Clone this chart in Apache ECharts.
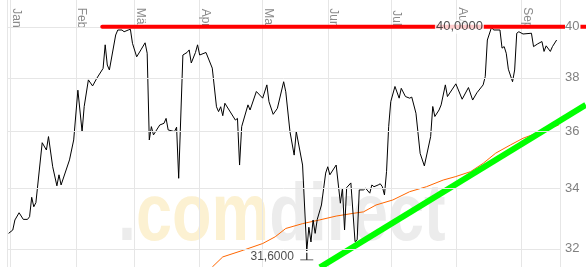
<!DOCTYPE html>
<html><head><meta charset="utf-8">
<script src="https://cdn.jsdelivr.net/npm/echarts@6/dist/echarts.min.js"></script>
<style>html,body{margin:0;padding:0;background:#fff}#c{width:586px;height:267px}</style>
</head><body><div id="c"></div>
<script>
// ---- data ----
const YEAR = 2010;
const monthLabels = ['Jan','Feb','Mär','Apr','Mai','Jun','Jul','Aug','Sep','Okt','Nov','Dez'];
const yTicks = [32, 34, 36, 38, 40];
// days since 1 Jan
const priceDays = [
 -1,1,2,4,6,8,9,10,11,12,
 15,17,18,20,22,23,24,28,30,32,
 34,35,37,39,41,44,45,46,47,50,
 51,53,54,56,57,58,60,62,64,65,
 66,67,68,71,73,74,75,78,79,80,
 82,84,85,86,88,89,90,93,96,98,
 99,100,101,102,107,108,109,110,113,114,
 117,120,122,123,125,127,130,131,133,135,
 136,139,141,142,143,144,145,146,148,150,
 151,152,155,157,158,159,160,162,164,165,
 166,168,169,171,172,173,175,176,177,178,
 179,180,181,183,185,186,188,190,191,193,
 195,197,200,201,202,204,205,207,208,212,
 215,218,220,222,225,226,227,229,230,233,
 234,235,236,237,239,240,241,242,244,248,
 249,251,253,254,255,257,258,260];
const priceValues = [
 32.50,32.61,32.94,33.18,32.96,32.96,33.05,33.70,33.38,33.52,
 35.60,35.34,35.82,34.75,34.09,34.47,34.12,34.99,35.70,37.53,
 36.00,36.92,37.92,37.69,37.98,38.36,39.28,38.49,38.30,39.67,
 39.87,39.87,39.80,39.87,39.90,39.34,38.81,39.08,39.36,38.95,
 35.70,36.18,35.88,36.24,36.30,36.48,36.06,36.00,36.16,34.35,
 38.88,38.98,39.08,38.57,38.98,39.28,38.88,38.98,38.37,36.91,
 36.73,36.91,36.58,37.04,36.42,36.48,34.81,36.18,36.98,36.79,
 37.48,37.23,37.73,37.10,36.63,36.85,37.85,37.47,36.00,35.16,
 36.00,34.81,31.93,32.70,32.22,32.94,32.50,32.96,33.44,34.53,
 34.75,34.47,34.81,33.50,34.01,32.61,34.03,34.19,32.23,32.29,
 33.95,33.95,34.01,33.84,34.12,34.06,34.12,34.16,34.06,33.78,
 34.59,36.18,37.10,37.67,37.23,37.60,37.29,37.23,37.27,36.67,
 35.22,34.78,35.82,36.92,36.55,36.79,36.98,37.73,37.29,37.77,
 37.19,37.63,37.16,37.43,37.73,38.05,39.47,39.98,39.87,39.87,
 39.15,39.21,38.95,38.33,37.85,38.30,39.74,39.80,39.71,39.74,
 39.21,39.32,39.41,39.02,39.24,39.02,39.21,39.47];
const maDays = [96,101,111,120,126,131,139,147,155,163,168,174,182,190,198,206,212,219,225,231,238,244,261];
const maValues = [31.42,31.74,31.96,32.17,32.39,32.66,32.82,32.94,33.07,33.16,33.21,33.44,33.61,33.89,34.06,34.29,34.41,34.58,34.87,35.23,35.52,35.76,36.24];
const trendDays = [147.3, 273.9];
const trendValues = [31.41, 36.98];
const resistanceDays = [43.6, 274];
const resistanceValue = 40;
const resistanceLabelDay = 213.7;
const lowDay = 141;
const lowValue = 31.6;
const axisMinDay = -1.76, axisMaxDay = 261.6;
const yMin = 31.42, yMax = 41.09;

// ---- build ----
const W = 586, GL = 7, GR = 26;
const base = new Date(YEAR, 0, 1).getTime();
const t = d => base + d * 86400000;
const pairs = (ds, vs) => ds.map((d, i) => [t(d), vs[i]]);
const fmt = v => v.toFixed(4).replace('.', ',');
const FONT = '"Liberation Sans", Arial, sans-serif';
// overlay grid spans to the right edge with the same day scale
const pxPerDay = (W - GL - GR) / (axisMaxDay - axisMinDay);
const overlayMaxDay = axisMinDay + (W - GL) / pxPerDay;

const chart = echarts.init(document.getElementById('c'), null, {renderer: 'canvas'});
chart.setOption({
  animation: false,
  backgroundColor: '#fff',
  textStyle: {fontFamily: FONT},
  grid: [
    {left: GL, right: GR, top: 0, bottom: 0, containLabel: false},
    {left: GL, right: 0, top: 0, bottom: 0, containLabel: false}
  ],
  graphic: [{
    type: 'text', x: 118, y: 218, scaleX: 0.8, z: -1, silent: true,
    style: {
      text: '{g|.}{y|com}{g|direct}',
      font: 'bold 81px "Liberation Sans"',
      textVerticalAlign: 'middle', verticalAlign: 'middle',
      rich: {
        g: {fill: '#ececec', font: 'bold 81px "Liberation Sans"'},
        y: {fill: '#fcf1d2', font: 'bold 81px "Liberation Sans"'}
      }
    }
  }],
  xAxis: [{
    type: 'time', gridIndex: 0, position: 'top', min: t(axisMinDay), max: t(axisMaxDay), splitNumber: 9,
    axisLine: {show: false}, axisTick: {show: false},
    splitLine: {show: true, lineStyle: {color: '#e6e6e6', width: 1}},
    axisLabel: {
      inside: true, rotate: 90, margin: 18, align: 'center', verticalAlign: 'bottom',
      color: '#8a8a8a', fontSize: 12, fontFamily: FONT,
      showMinLabel: false, showMaxLabel: false, hideOverlap: false,
      formatter: v => monthLabels[new Date(v).getMonth()]
    }
  }, {
    type: 'time', gridIndex: 1, min: t(axisMinDay), max: t(overlayMaxDay), show: false
  }],
  yAxis: [{
    type: 'log', gridIndex: 0, position: 'right', min: yMin, max: yMax,
    axisLine: {show: true, lineStyle: {color: '#e6e6e6'}},
    axisTick: {show: false}, axisLabel: {show: false}, splitLine: {show: false}
  }, {
    type: 'log', gridIndex: 1, min: yMin, max: yMax, show: false
  }],
  series: [
    {type: 'line', name: 'grid', data: [], z: 1, silent: true,
     markLine: {silent: true, symbol: 'none', label: {show: false},
       lineStyle: {color: '#e6e6e6', width: 1, type: 'solid'},
       data: yTicks.map(v => ({yAxis: v}))}},
    {type: 'line', name: 'ma', data: pairs(maDays, maValues), z: 2, symbol: 'none', silent: true,
     lineStyle: {color: '#ff6600', width: 1}},
    {type: 'line', name: 'price', data: pairs(priceDays, priceValues), z: 3, symbol: 'none', silent: true,
     lineStyle: {color: '#000', width: 1}},
    {type: 'line', name: 'trend', xAxisIndex: 1, yAxisIndex: 1, data: pairs(trendDays, trendValues), z: 4, symbol: 'none', silent: true,
     lineStyle: {color: '#00ff00', width: 6}},
    {type: 'line', name: 'resistance', xAxisIndex: 1, yAxisIndex: 1, data: resistanceDays.map(d => [t(d), resistanceValue]), z: 5, symbol: 'none', silent: true,
     lineStyle: {color: '#ff0000', width: 4, cap: 'round'}},
    {type: 'scatter', name: 'notes', z: 6, silent: true, clip: false,
     data: [
       {value: [t(resistanceLabelDay), resistanceValue], symbolSize: 1, itemStyle: {color: 'rgba(0,0,0,0)'},
        label: {show: true, position: 'inside', formatter: fmt(resistanceValue), color: '#222', fontSize: 13,
                backgroundColor: '#fff', padding: [1, 1, 0, 1]}},
       {value: [t(lowDay), lowValue], symbol: 'path://M0 6 L12 6 M6 6 L6 0', symbolSize: [13, 7], symbolOffset: [0, -5],
        itemStyle: {color: 'none', borderColor: '#000', borderWidth: 1},
        label: {show: true, position: 'left', distance: 3, formatter: fmt(lowValue), color: '#222', fontSize: 12}}
     ]},
    {type: 'line', name: 'ylabels', data: [], z: 7, silent: true,
     markLine: {silent: true, symbol: 'none', z: 7,
       lineStyle: {color: 'rgba(0,0,0,0)', width: 0},
       label: {show: true, position: 'end', distance: 5, formatter: '{b}', color: '#808080', fontSize: 13,
               backgroundColor: '#fff', padding: [0, 1, 0, 0]},
       data: yTicks.map(v => ({yAxis: v, name: String(v)}))}}
  ]
});
</script>
</body></html>
